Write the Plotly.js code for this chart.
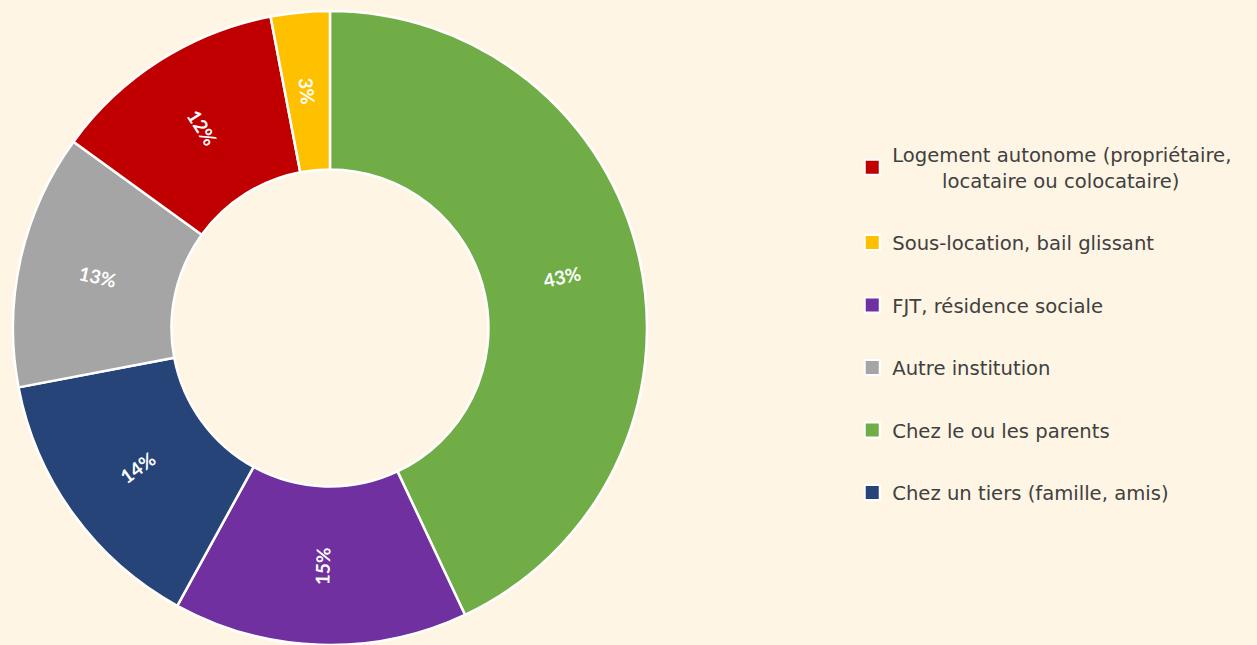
<!DOCTYPE html>
<html>
<head>
<meta charset="utf-8">
<script src="https://cdn.plot.ly/plotly-3.0.1.min.js"></script>
<style>
html,body{margin:0;padding:0;background:#FEF5E4;}
#chart{width:1257px;height:645px;}
</style>
</head>
<body>
<div id="chart"></div>
<script>
// Slice order (clockwise from top)
const sliceLabels = ["Chez le ou les parents", "FJT, résidence sociale", "Chez un tiers (famille, amis)", "Autre institution", "Logement autonome (propriétaire, locataire ou colocataire)", "Sous-location, bail glissant"];
const sliceValues = [43, 15, 14, 13, 12, 3];
const sliceColors = ["#70AD47", "#7030A0", "#264478", "#A5A5A5", "#C00000", "#FFC000"];

// Legend order
const legendLabels = ["Logement autonome (propriétaire,<br>        locataire ou colocataire)", "Sous-location, bail glissant", "FJT, résidence sociale", "Autre institution", "Chez le ou les parents", "Chez un tiers (famille, amis)"];
const legendColors = ["#C00000", "#FFC000", "#7030A0", "#A5A5A5", "#70AD47", "#264478"];

const W = 1257, H = 645;
const pieDomX = [0.0095, 0.5155];
const pieDomY = [0.0, 0.983];
const HOLE = 0.5;

const traces = [{
  type: "pie",
  labels: sliceLabels,
  values: sliceValues,
  sort: false,
  direction: "clockwise",
  rotation: 0,
  hole: HOLE,
  marker: {colors: sliceColors, line: {color: "#FFFFFF", width: 2.5}},
  textinfo: "none",
  showlegend: false,
  hoverinfo: "skip",
  domain: {x: pieDomX, y: pieDomY}
}];

legendLabels.forEach((name, i) => {
  traces.push({
    type: "scatter",
    mode: "markers",
    x: [null], y: [null],
    name: name,
    legendgroup: "g" + i,
    marker: {symbol: "square", size: 15, color: legendColors[i], line: {color: "#FFFFFF", width: 2}},
    hoverinfo: "skip",
    showlegend: true
  });
});

// Radial percentage labels placed at each slice's mid-angle, mid-ring
const total = sliceValues.reduce((a, b) => a + b, 0);
const cx = (pieDomX[0] + pieDomX[1]) / 2;
const cy = (pieDomY[0] + pieDomY[1]) / 2;
const rPx = Math.min((pieDomX[1] - pieDomX[0]) * W, (pieDomY[1] - pieDomY[0]) * H) / 2;
const rMid = rPx * (1 + HOLE) / 2;
let cum = 0;
const annotations = sliceValues.map(v => {
  const mid = (cum + v / 2) / total * 360;
  cum += v;
  const t = mid * Math.PI / 180;
  const ang = mid > 180 ? mid - 270 : mid - 90;
  return {
    xref: "paper", yref: "paper",
    x: cx + rMid * Math.sin(t) / W,
    y: cy + rMid * Math.cos(t) / H,
    xanchor: "center", yanchor: "middle",
    text: v + "%",
    textangle: ang,
    showarrow: false,
    font: {color: "#FFFFFF", size: 19, family: "Lato, sans-serif", weight: "bold"}
  };
});

const layout = {
  width: W, height: H,
  margin: {l: 0, r: 0, t: 0, b: 0},
  paper_bgcolor: "#FEF5E4",
  plot_bgcolor: "#FEF5E4",
  xaxis: {visible: false},
  yaxis: {visible: false},
  showlegend: true,
  annotations: annotations,
  legend: {
    x: 0.678, y: 0.498, xanchor: "left", yanchor: "middle",
    traceorder: "grouped",
    tracegroupgap: 34,
    bgcolor: "rgba(0,0,0,0)",
    font: {family: "DejaVu Sans, sans-serif", size: 19.6, color: "#404040"},
    itemwidth: 30
  }
};

Plotly.newPlot("chart", traces, layout, {displayModeBar: false, staticPlot: true});
</script>
</body>
</html>
